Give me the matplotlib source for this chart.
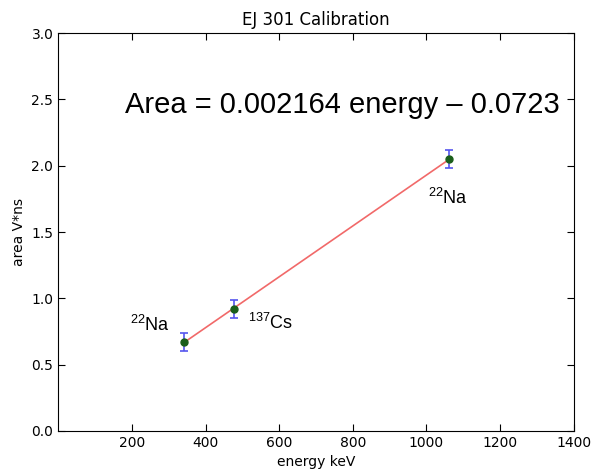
import numpy as np
import matplotlib
matplotlib.use('Agg')
import matplotlib.pyplot as plt

plt.rcParams['mathtext.fontset'] = 'custom'
plt.rcParams['mathtext.rm'] = 'Liberation Sans'

# compton edges (keV) and measured pulse area
energy = [341, 477, 1062]
area = [0.67, 0.92, 2.05]
area_err = [0.07, 0.07, 0.07]
sources = ['$^{22}$Na', '$^{137}$Cs', '$^{22}$Na']
label_pos = [(195, 0.75), (515, 0.77), (1004, 1.71)]

x_ticks = [200, 400, 600, 800, 1000, 1200, 1400]
y_ticks = [0.0, 0.5, 1.0, 1.5, 2.0, 2.5, 3.0]

fig = plt.figure(figsize=(5.94, 4.74), dpi=100)
ax = fig.add_axes([0.098, 0.091, 0.868, 0.839])

# linear fit through the points
k, n = np.polyfit(energy, area, 1)
xf = np.array([energy[0], energy[-1]])
ax.plot(xf, k * xf + n, color='#ee4444', lw=1.2, alpha=0.8)

ax.errorbar(energy, area, yerr=area_err, fmt='o', color='#1a5e1a', ms=5,
            ecolor='#5555ee', elinewidth=1.2, capsize=3, capthick=1.2, zorder=3)

for s, (xp, yp) in zip(sources, label_pos):
    ax.text(xp, yp, s, fontsize=13, family='Liberation Sans')

ax.text(182, 2.4, 'Area = 0.002164 energy \u2013 0.0723', fontsize=21,
        family='Liberation Sans')

ax.set_xlim(0, 1400)
ax.set_ylim(0, 3.0)
ax.set_xticks(x_ticks)
ax.set_yticks(y_ticks)
ax.tick_params(direction='in', top=True, right=True, labelsize=10, length=5)
ax.set_xlabel('energy keV', fontsize=10)
ax.set_ylabel('area V*ns', fontsize=10)
ax.set_title('EJ 301 Calibration', fontsize=12)

fig.savefig('out.png', dpi=100)
